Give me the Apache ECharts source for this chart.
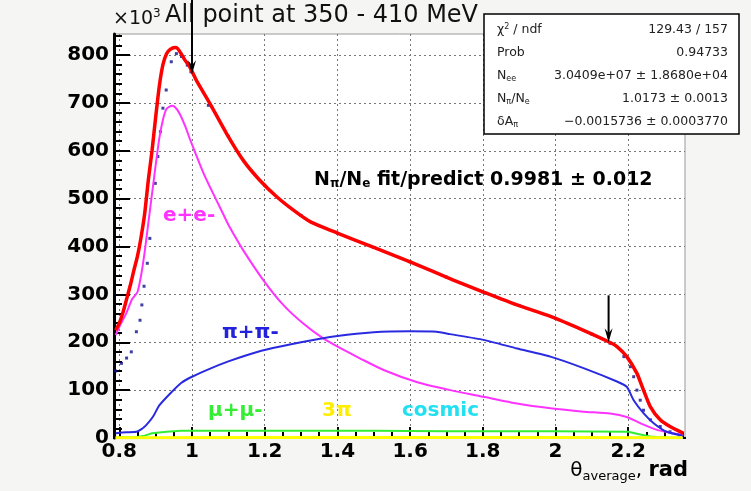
<!DOCTYPE html>
<html><head><meta charset="utf-8">
<script src="https://cdn.jsdelivr.net/npm/echarts@6/dist/echarts.min.js"></script>
<style>html,body{margin:0;padding:0;background:#f5f5f3;}#c{width:751px;height:491px;}</style>
</head><body><div id="c"></div>
<script>
// axis range and ticks
const X_MIN = 0.7854, X_MAX = 2.3562;
const Y_MIN = 0, Y_MAX = 844;
const xTickValues = [0.8, 1.0, 1.2, 1.4, 1.6, 1.8, 2.0, 2.2];
const xMinorValues = [0.8,0.85,0.9,0.95,1.0,1.05,1.1,1.15,1.2,1.25,1.3,1.35,1.4,1.45,1.5,1.55,1.6,1.65,1.7,1.75,1.8,1.85,1.9,1.95,2.0,2.05,2.1,2.15,2.2,2.25,2.3,2.35];
const yTickValues = [0,100,200,300,400,500,600,700,800];
const yMinorValues = [0,20,40,60,80,100,120,140,160,180,200,220,240,260,280,300,320,340,360,380,400,420,440,460,480,500,520,540,560,580,600,620,640,660,680,700,720,740,760,780,800,820,840];

// total fit (red)
const fitX = [0.79,0.80,0.81,0.82,0.83,0.84,0.85,0.86,0.87,0.88,0.89,0.90,0.91,0.92,0.93,0.94,0.953,0.96,0.97,0.98,0.99,1.0,1.012,1.049,1.095,1.141,1.187,1.233,1.279,1.325,1.40,1.50,1.60,1.719,1.802,1.894,1.986,2.077,2.146,2.169,2.196,2.224,2.242,2.261,2.288,2.315,2.352];
const fitY = [225,240,262,290,318,350,380,420,470,540,600,670,735,780,803,812,816,814,803,790,780,766,747,699,636,580,538,504,476,452,428,398,368,330,305,278,254,225,201,191,170,135,100,65,38,24,10];

// data points (navy)
const dataX = [0.79,0.806,0.82,0.833,0.847,0.857,0.862,0.868,0.877,0.884,0.899,0.906,0.913,0.920,0.929,0.943,0.957,0.971,0.987,0.997,1.045,1.10,1.20,1.30,1.40,1.50,1.60,1.70,1.80,1.90,2.00,2.10,2.15,2.188,2.206,2.215,2.224,2.233,2.242,2.261,2.288,2.315,2.34];
const dataY = [140,156,167,180,222,246,278,317,365,417,532,588,640,689,727,786,803,797,779,765,695,630,528,465,428,398,368,336,305,277,250,217,198,170,149,128,100,79,58,38,24,13,6];

// e+e- (magenta)
const eeX = [0.79,0.80,0.82,0.835,0.85,0.86,0.87,0.88,0.89,0.90,0.91,0.92,0.93,0.945,0.955,0.967,0.981,0.994,1.012,1.03,1.049,1.067,1.085,1.099,1.113,1.141,1.196,1.251,1.306,1.361,1.417,1.463,1.527,1.618,1.71,1.802,1.894,1.986,2.077,2.15,2.196,2.233,2.279,2.352];
const eeY = [215,232,262,290,305,340,390,450,510,570,626,665,688,694,690,676,652,625,590,556,525,497,469,447,428,392,330,278,239,208,184,166,142,117,100,86,72,62,55,51,44,31,17,6];

// pi+pi- (blue)
const pipiX = [0.79,0.80,0.82,0.847,0.86,0.874,0.893,0.91,0.94,0.97,1.0,1.05,1.10,1.15,1.20,1.30,1.40,1.50,1.60,1.673,1.71,1.802,1.894,1.986,2.077,2.169,2.196,2.215,2.242,2.27,2.306,2.35];
const pipiY = [10,11,12,13,18,27,45,68,93,115,128,145,160,173,184,200,213,221,223,222,217,205,187,170,146,118,107,79,52,31,13,5];

// mu+mu- (green)
const mumuX = [0.79,0.85,0.87,0.89,0.93,0.97,1.2,1.5,1.7,2.0,2.2,2.23,2.26,2.3,2.35];
const mumuY = [1,2,5,10,13,15,15,15,14,14,13,8,3,1,0];

// 3pi (yellow)
const threePiX = [0.79,1.2,1.6,2.0,2.35];
const threePiY = [0.6,0.8,1.0,0.8,0.4];

// cosmic (cyan)
const cosmicX = [0.79,1.3,1.45,1.55,1.65,1.75,2.0,2.35];
const cosmicY = [0,0.5,1.5,2,2,1,0.5,0];

const zip = (xs, ys) => xs.map((x, i) => [x, ys[i]]);

const chart = echarts.init(document.getElementById('c'), null, {renderer: 'canvas'});
const FONT = 'DejaVu Sans';
const lbl = {fontFamily: FONT, fontWeight: 'bold', fontSize: 20, color: '#000'};

const option = {
  backgroundColor: '#f5f5f3',
  animation: false,
  grid: {left: 114, right: 66, top: 34, bottom: 53, show: true, backgroundColor: '#fff', borderColor: '#999', borderWidth: 1},
  xAxis: [
    {type: 'value', min: X_MIN, max: X_MAX,
     axisLine: {show: true, onZero: false, lineStyle: {color: '#000', width: 2}},
     axisTick: {show: true, inside: true, length: 11, customValues: xTickValues, lineStyle: {color: '#000', width: 2}},
     axisLabel: Object.assign({customValues: xTickValues, margin: 4}, lbl),
     splitLine: {show: true, lineStyle: {type: [2, 3], color: '#777', width: 1}}},
    {type: 'value', min: X_MIN, max: X_MAX, position: 'bottom',
     axisLine: {show: false},
     axisTick: {show: true, inside: true, length: 6, customValues: xMinorValues, lineStyle: {color: '#000', width: 2}},
     axisLabel: {show: false}, splitLine: {show: false}},
    {type: 'value', min: X_MIN, max: X_MAX, position: 'top',
     axisLine: {show: true, lineStyle: {color: '#000', width: 2}},
     axisTick: {show: false}, axisLabel: {show: false}, splitLine: {show: false}}
  ],
  yAxis: [
    {type: 'value', min: Y_MIN, max: Y_MAX, position: 'left',
     axisLine: {show: true, onZero: false, lineStyle: {color: '#000', width: 3}},
     axisTick: {show: true, inside: true, length: 16, customValues: yTickValues, lineStyle: {color: '#000', width: 2}},
     axisLabel: Object.assign({customValues: yTickValues, margin: 5}, lbl),
     splitLine: {show: true, lineStyle: {type: [2, 3], color: '#777', width: 1}}},
    {type: 'value', min: Y_MIN, max: Y_MAX, position: 'left', offset: 0,
     axisLine: {show: false},
     axisTick: {show: true, inside: true, length: 8, customValues: yMinorValues, lineStyle: {color: '#000', width: 2}},
     axisLabel: {show: false}, splitLine: {show: false}}
  ],
  series: [
    {name: 'data', type: 'scatter', data: zip(dataX, dataY), symbol: 'rect', symbolSize: 3,
     itemStyle: {color: '#10108a'}, z: 2},
    {name: 'e+e-', type: 'line', data: zip(eeX, eeY), showSymbol: false, smooth: 0.2,
     lineStyle: {color: '#ff33ff', width: 2}, z: 3},
    {name: 'pi+pi-', type: 'line', data: zip(pipiX, pipiY), showSymbol: false, smooth: 0.2,
     lineStyle: {color: '#2a2ae0', width: 2}, z: 3},
    {name: 'mu+mu-', type: 'line', data: zip(mumuX, mumuY), showSymbol: false,
     lineStyle: {color: '#33ee33', width: 2}, z: 3},
    {name: 'cosmic', type: 'line', data: zip(cosmicX, cosmicY), showSymbol: false,
     lineStyle: {color: '#22e5f0', width: 2}, z: 3},
    {name: 'fit', type: 'line', data: zip(fitX, fitY), showSymbol: false, smooth: 0.2,
     lineStyle: {color: '#ff0000', width: 3.5}, z: 4},
    {name: '3pi', type: 'line', data: zip(threePiX, threePiY), showSymbol: false,
     lineStyle: {color: '#ffff00', width: 3}, z: 5}
  ]
};
chart.setOption(option);

const px = (x, y) => chart.convertToPixel({gridIndex: 0}, [x, y]);
function arrow(x, yTop, yTip) {
  const a = px(x, yTop), b = px(x, yTip);
  return [
    {type: 'line', shape: {x1: a[0], y1: Math.max(a[1], 0), x2: b[0], y2: b[1] - 4}, style: {stroke: '#000', lineWidth: 2}, z: 100},
    {type: 'polygon', shape: {points: [[b[0], b[1]], [b[0] - 4, b[1] - 14], [b[0], b[1] - 9], [b[0] + 4, b[1] - 14]]}, style: {fill: '#000'}, z: 100}
  ];
}
const statRows = [
  ['χ{sup|2} / ndf', '129.43 / 157'],
  ['Prob', '0.94733'],
  ['N{sub|ee}', '3.0409e+07 ± 1.8680e+04'],
  ['N{sub|π}/N{sub|e}', '1.0173 ± 0.0013'],
  ['δA{sub|π}', '−0.0015736 ± 0.0003770']
];
const rowY = [30, 53, 76, 99, 122];
const statFont = {fontFamily: FONT, fontSize: 12.5, fill: '#222'};
const richSmall = {sub: {fontFamily: FONT, fontSize: 8, verticalAlign: 'bottom', padding: [6, 0, 0, 0], fill: '#222'}, sup: {fontFamily: FONT, fontSize: 8, padding: [0, 0, 6, 0], fill: '#222'}};
const graphics = [];
graphics.push({type: 'rect', shape: {x: 484, y: 14, width: 255, height: 120}, style: {fill: '#fff', stroke: '#000', lineWidth: 1.5}, z: 50});
statRows.forEach((r, i) => {
  graphics.push({type: 'text', x: 497, y: rowY[i], style: Object.assign({text: r[0], verticalAlign: 'middle', align: 'left', rich: richSmall}, statFont), z: 51});
  graphics.push({type: 'text', x: 728, y: rowY[i], style: Object.assign({text: r[1], verticalAlign: 'middle', align: 'right'}, statFont), z: 51});
});
// title and multiplier
graphics.push({type: 'text', x: 113, y: 19, style: {text: '×10{sup|3}', fontFamily: FONT, fontSize: 19, fill: '#111', verticalAlign: 'middle', rich: {sup: {fontFamily: FONT, fontSize: 12, padding: [0, 0, 10, 0], fill: '#111'}}}, z: 60});
graphics.push({type: 'text', x: 165, y: 16, style: {text: 'All point at 350 - 410 MeV', fontFamily: FONT, fontSize: 24, fill: '#111', verticalAlign: 'middle'}, z: 60});
// fit/predict label
graphics.push({type: 'text', x: 314, y: 180, style: {text: 'N{s|π}/N{s|e} fit/predict 0.9981 ± 0.012', fontFamily: FONT, fontWeight: 'bold', fontSize: 19, fill: '#000', verticalAlign: 'middle',
  rich: {s: {fontFamily: FONT, fontWeight: 'bold', fontSize: 12, padding: [8, 0, 0, 0], fill: '#000'}}}, z: 60});
// component labels
const comp = [
  ['e+e-', '#ff33ff', 163, 216],
  ['π+π-', '#2222dd', 222, 333],
  ['μ+μ-', '#33ee33', 208, 411],
  ['3π', '#ffee00', 322, 411],
  ['cosmic', '#22e0f0', 402, 411]
];
comp.forEach(c => graphics.push({type: 'text', x: c[2], y: c[3], style: {text: c[0], fontFamily: FONT, fontWeight: 'bold', fontSize: 20, fill: c[1], verticalAlign: 'middle'}, z: 60}));
// axis title
graphics.push({type: 'text', x: 688, y: 471, style: {text: 'θ{s|average}, {b|rad}', fontFamily: FONT, fontSize: 20, fill: '#000', align: 'right', verticalAlign: 'middle',
  rich: {s: {fontFamily: FONT, fontSize: 13, padding: [11, 0, 0, 0], fill: '#000'}, b: {fontFamily: FONT, fontWeight: 'bold', fontSize: 21, fill: '#000'}}}, z: 60});
graphics.push(...arrow(1.0, 915, 760));
graphics.push(...arrow(2.146, 298, 200));
chart.setOption({graphic: graphics});
</script></body></html>
